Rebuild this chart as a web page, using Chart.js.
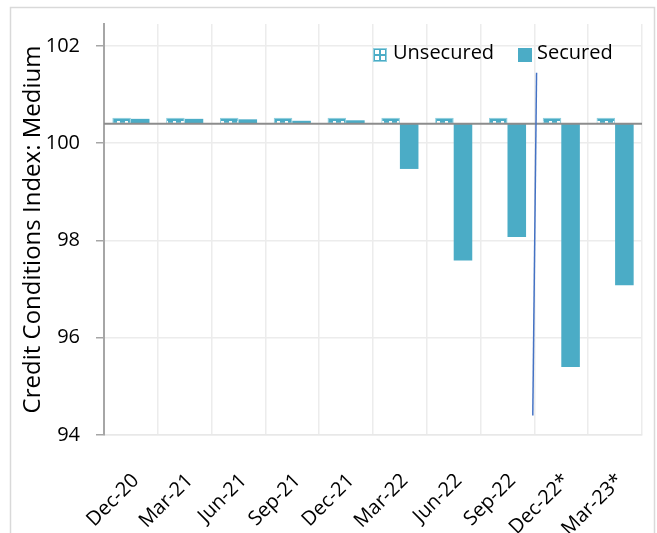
<!DOCTYPE html>
<html>
<head>
<meta charset="utf-8">
<script src="https://cdn.jsdelivr.net/npm/chart.js@4.4.0/dist/chart.umd.min.js"></script>
<style>
  html, body { margin: 0; padding: 0; background: #fff; }
  #wrap { width: 657px; height: 533px; }
</style>
</head>
<body>
<div id="wrap"><canvas id="chart" width="657" height="533"></canvas></div>
<script>
// Quarterly credit conditions index (medium-sized borrowers); * = expected
const categories = ['Dec-20', 'Mar-21', 'Jun-21', 'Sep-21', 'Dec-21', 'Mar-22', 'Jun-22', 'Sep-22', 'Dec-22*', 'Mar-23*'];
const unsecured = [100.52, 100.52, 100.52, 100.52, 100.52, 100.52, 100.52, 100.52, 100.52, 100.52];
const secured = [100.50, 100.50, 100.49, 100.46, 100.47, 99.47, 97.59, 98.07, 95.40, 97.08];
const yTicks = [94, 96, 98, 100, 102];
const baseValue = 100.4;          // bars hang from this reference level
const yMin = 94, yMax = 102.45;
// hand-drawn divider between actual and expected quarters (category index / value units)
const divider = { fromIndex: 7.54, fromValue: 101.45, toIndex: 7.47, toValue: 94.4 };

const TEAL = '#4bacc6';
const FONT = "'Open Sans', 'DejaVu Sans', sans-serif";

function dottedFill() {
  const t = document.createElement('canvas');
  t.width = 8; t.height = 8;
  const g = t.getContext('2d');
  g.fillStyle = TEAL; g.fillRect(0, 0, 8, 8);
  g.fillStyle = '#ffffff'; g.fillRect(5, 1, 3, 2);
  return g.createPattern(t, 'repeat');
}
const unsecuredFill = dottedFill();

const decorations = {
  id: 'decorations',
  beforeDraw(chart) {
    const c = chart.ctx;
    c.save();
    c.fillStyle = '#ffffff';
    c.fillRect(0, 0, chart.width, chart.height);
    c.strokeStyle = '#d9d9d9';
    c.lineWidth = 1.5;
    c.strokeRect(10.5, 7.5, 644, 560);
    c.restore();
  },
  afterDatasetsDraw(chart) {
    const c = chart.ctx, x = chart.scales.x, y = chart.scales.y, a = chart.chartArea;
    c.save();
    // reference level line
    const yb = y.getPixelForValue(baseValue);
    c.strokeStyle = '#8c8c8c';
    c.lineWidth = 2;
    c.beginPath(); c.moveTo(a.left, yb); c.lineTo(a.right, yb); c.stroke();

    // actual / expected divider
    const step = x.getPixelForValue(1) - x.getPixelForValue(0);
    const px = i => x.getPixelForValue(0) + i * step;
    c.strokeStyle = '#4472c4';
    c.lineWidth = 1.5;
    c.beginPath();
    c.moveTo(px(divider.fromIndex), y.getPixelForValue(divider.fromValue));
    c.lineTo(px(divider.toIndex), y.getPixelForValue(divider.toValue));
    c.stroke();

    // legend inside the plot, top right
    const ds = chart.data.datasets;
    const top = a.top + 24, box = 14;
    c.font = '20px ' + FONT;
    c.textBaseline = 'middle';
    let lx = 373;
    // Unsecured swatch: dotted
    c.fillStyle = TEAL; c.fillRect(lx, top, box, box);
    c.fillStyle = '#ffffff';
    c.fillRect(lx + 2, top + 2, 4, 4); c.fillRect(lx + 8, top + 2, 4, 4);
    c.fillRect(lx + 2, top + 8, 4, 4); c.fillRect(lx + 8, top + 8, 4, 4);
    c.strokeStyle = '#92d0df'; c.lineWidth = 1;
    c.strokeRect(lx + 0.5, top + 0.5, box - 1, box - 1);
    c.fillStyle = '#000';
    c.fillText(ds[0].label, lx + box + 6, top + box / 2 - 2);
    lx = 518;
    c.fillStyle = TEAL; c.fillRect(lx, top, box, box);
    c.fillStyle = '#000';
    c.fillText(ds[1].label, lx + box + 5, top + box / 2 - 2);
    c.restore();
  }
};

new Chart(document.getElementById('chart'), {
  type: 'bar',
  data: {
    labels: categories,
    datasets: [
      { label: 'Unsecured', data: unsecured, base: baseValue, backgroundColor: unsecuredFill,
        borderColor: '#8fcfde', borderWidth: 1, borderSkipped: false,
        categoryPercentage: 0.69, barPercentage: 1 },
      { label: 'Secured', data: secured, base: baseValue, backgroundColor: TEAL, borderWidth: 0,
        categoryPercentage: 0.69, barPercentage: 1 }
    ]
  },
  options: {
    responsive: false,
    animation: false,
    devicePixelRatio: 1,
    layout: { padding: { left: 12, right: 15, top: 24, bottom: 0 } },
    plugins: { legend: { display: false }, tooltip: { enabled: false } },
    scales: {
      x: {
        grid: { color: '#ececec', lineWidth: 1.5, drawTicks: false, offset: true },
        border: { color: '#e8e8e8', width: 1.5 },
        ticks: { font: { family: FONT, size: 20 }, color: '#000', minRotation: 45, maxRotation: 45,
                 padding: 34, labelOffset: 5 },
        afterFit(s) { s.height = 98; s.paddingLeft = 0; s.paddingRight = 0; }
      },
      y: {
        min: yMin, max: yMax,
        afterBuildTicks(s) { s.ticks = yTicks.map(v => ({ value: v })); },
        grid: { color: '#ececec', lineWidth: 1.5, tickColor: '#a6a6a6', tickLength: 8 },
        border: { color: '#a6a6a6', width: 2 },
        ticks: { font: { family: FONT, size: 20 }, color: '#000', padding: 16 },
        title: { display: true, text: 'Credit Conditions Index: Medium', color: '#000',
                 font: { family: FONT, size: 24 }, padding: { top: 7, bottom: 0 } },
        afterFit(s) { s.width = 92; s.paddingTop = 0; s.paddingBottom = 0; }
      }
    }
  },
  plugins: [decorations]
});
</script>
</body>
</html>
